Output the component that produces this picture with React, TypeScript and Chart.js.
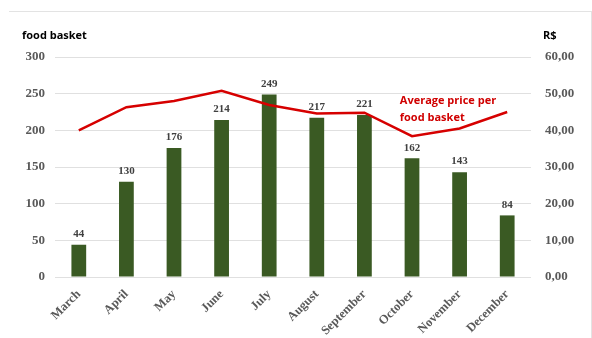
import React, { useEffect, useRef } from "react";
import { Chart, registerables } from "chart.js";

Chart.register(...registerables);

const months = ["March", "April", "May", "June", "July", "August", "September", "October", "November", "December"];
const basketCounts = [44, 130, 176, 214, 249, 217, 221, 162, 143, 84];
const avgPrice = [40.0, 46.3, 48.0, 50.8, 46.9, 44.6, 44.8, 38.4, 40.5, 45.0];
const leftTitle = "food basket";
const rightTitle = "R$";
const noteLines = ["Average price per", "food basket"];

const overlay = {
  id: "overlay",
  afterDatasetsDraw(chart: any) {
    const ctx = chart.ctx;
    ctx.save();
    // data labels
    const meta = chart.getDatasetMeta(0);
    ctx.font = "bold 11px 'Liberation Serif', serif";
    ctx.fillStyle = "#404040";
    ctx.textAlign = "center";
    ctx.textBaseline = "bottom";
    meta.data.forEach((el: any, i: number) => {
      ctx.fillText(String(basketCounts[i]), el.x, el.y - 5);
    });
    // axis titles
    ctx.font = "bold 11px 'Open Sans', sans-serif";
    ctx.fillStyle = "#000000";
    ctx.textAlign = "left";
    ctx.textBaseline = "alphabetic";
    ctx.fillText(leftTitle, 22, 39);
    ctx.fillText(rightTitle, 543, 39);
    // annotation
    ctx.font = "bold 11px 'Open Sans', sans-serif";
    ctx.fillStyle = "#d00000";
    const xs = chart.scales.x;
    const nx = (xs.getPixelForValue(7) + xs.getPixelForValue(8)) / 2 - 36;
    ctx.fillText(noteLines[0], nx, 104);
    ctx.fillText(noteLines[1], nx, 121);
    ctx.restore();
  },
};

export default function App() {
  const ref = useRef<HTMLCanvasElement>(null);
  useEffect(() => {
    document.body.style.margin = "0";
    const chart = new Chart(ref.current!, {
      type: "bar",
      data: {
        labels: months,
        datasets: [
          {
            type: "bar",
            data: basketCounts,
            backgroundColor: "#3a5a23",
            yAxisID: "y",
            barPercentage: 0.62,
            categoryPercentage: 0.5,
            order: 2,
          },
          {
            type: "line",
            data: avgPrice,
            borderColor: "#d60000",
            borderWidth: 2.5,
            pointRadius: 0,
            tension: 0,
            yAxisID: "y1",
            order: 1,
          } as any,
        ],
      },
      options: {
        animation: false,
        responsive: false,
        maintainAspectRatio: false,
        layout: { padding: { top: 57, left: 0, right: 0, bottom: 0 } },
        plugins: { legend: { display: false }, tooltip: { enabled: false } },
        scales: {
          x: {
            grid: { display: false },
            border: { display: false },
            afterFit: (s: any) => { s.height = 61; },
            ticks: {
              minRotation: 45,
              maxRotation: 45,
              padding: 2,
              color: "#595959",
              font: { family: "'Liberation Serif', serif", weight: "bold", size: 12.5 },
            },
          },
          y: {
            position: "left",
            min: 0,
            max: 300,
            afterFit: (s: any) => { s.width = 55; },
            grid: { color: "#e0e0e0", drawTicks: false, lineWidth: 1 },
            border: { display: false },
            ticks: {
              stepSize: 50,
              padding: 10,
              color: "#595959",
              font: { family: "'Liberation Serif', serif", weight: "bold", size: 13 },
            },
          },
          y1: {
            position: "right",
            min: 0,
            max: 60,
            afterFit: (s: any) => { s.width = 61; },
            grid: { display: false, drawTicks: false },
            border: { display: false },
            ticks: {
              stepSize: 10,
              padding: 14,
              color: "#595959",
              callback: (v: any) => Number(v).toFixed(2).replace(".", ","),
              font: { family: "'Liberation Serif', serif", weight: "bold", size: 13 },
            },
          },
        },
      },
      plugins: [overlay],
    });
    return () => chart.destroy();
  }, []);
  return (
    <div style={{ position: "fixed", left: 0, top: 0, width: 592, height: 338, background: "#fff" }}>
      <div style={{ position: "absolute", left: 9, top: 11, width: 582, height: 327, borderTop: "1px solid #e3e3e3", borderRight: "1px solid #e3e3e3" }} />
      <canvas ref={ref} width={592} height={338} style={{ position: "absolute", left: 0, top: 0, width: 592, height: 338 }} />
    </div>
  );
}
